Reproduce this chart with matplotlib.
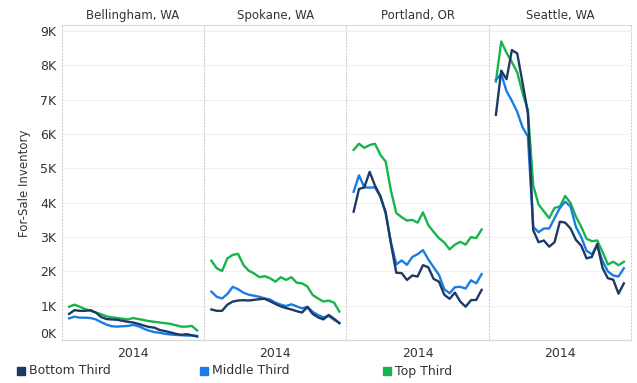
import matplotlib.pyplot as plt
from matplotlib.patches import Rectangle
from matplotlib.transforms import ScaledTranslation

# DATA (inventory in thousands, weekly points across 2014)
cities = ["Bellingham, WA", "Spokane, WA", "Portland, OR", "Seattle, WA"]
series_names = ["Bottom Third", "Middle Third", "Top Third"]
year_label = "2014"
ytick_values = [0, 1, 2, 3, 4, 5, 6, 7, 8, 9]
ytick_labels = ["0K", "1K", "2K", "3K", "4K", "5K", "6K", "7K", "8K", "9K"]
weeks = list(range(25))

bellingham_bottom = [0.76, 0.87, 0.85, 0.85, 0.87, 0.80, 0.67, 0.61, 0.60, 0.59, 0.56, 0.53, 0.51,
                     0.47, 0.42, 0.38, 0.36, 0.29, 0.26, 0.22, 0.18, 0.15, 0.17, 0.14, 0.10]
bellingham_middle = [0.63, 0.68, 0.65, 0.65, 0.64, 0.60, 0.52, 0.45, 0.40, 0.39, 0.40, 0.41, 0.44,
                     0.40, 0.33, 0.27, 0.23, 0.21, 0.18, 0.16, 0.15, 0.14, 0.13, 0.13, 0.12]
bellingham_top = [0.97, 1.03, 0.97, 0.90, 0.85, 0.80, 0.75, 0.69, 0.66, 0.64, 0.62, 0.60, 0.64,
                  0.61, 0.58, 0.55, 0.53, 0.51, 0.49, 0.47, 0.43, 0.39, 0.39, 0.41, 0.28]

spokane_bottom = [0.89, 0.85, 0.85, 1.03, 1.12, 1.15, 1.16, 1.15, 1.17, 1.19, 1.20, 1.13, 1.05,
                  0.98, 0.93, 0.89, 0.84, 0.80, 0.96, 0.76, 0.66, 0.60, 0.73, 0.62, 0.49]
spokane_middle = [1.41, 1.26, 1.21, 1.34, 1.55, 1.48, 1.38, 1.32, 1.29, 1.26, 1.21, 1.18, 1.09,
                  1.03, 0.99, 1.04, 0.98, 0.92, 0.97, 0.82, 0.73, 0.66, 0.70, 0.59, 0.50]
spokane_top = [2.31, 2.09, 2.01, 2.38, 2.48, 2.51, 2.19, 2.02, 1.94, 1.83, 1.86, 1.80, 1.70,
               1.83, 1.75, 1.83, 1.67, 1.65, 1.56, 1.31, 1.21, 1.12, 1.15, 1.09, 0.83]

portland_bottom = [3.74, 4.40, 4.45, 4.90, 4.50, 4.20, 3.72, 2.80, 1.96, 1.95, 1.75, 1.88, 1.85,
                   2.18, 2.12, 1.78, 1.70, 1.32, 1.20, 1.38, 1.12, 0.97, 1.16, 1.17, 1.46]
portland_middle = [4.32, 4.80, 4.45, 4.44, 4.45, 4.18, 3.70, 2.85, 2.20, 2.32, 2.19, 2.42, 2.50,
                   2.62, 2.35, 2.12, 1.90, 1.48, 1.36, 1.54, 1.55, 1.50, 1.74, 1.65, 1.92]
portland_top = [5.54, 5.72, 5.60, 5.68, 5.72, 5.40, 5.20, 4.35, 3.70, 3.58, 3.48, 3.50, 3.42,
                3.72, 3.35, 3.15, 2.97, 2.84, 2.64, 2.78, 2.86, 2.78, 3.00, 2.97, 3.22]

seattle_bottom = [6.56, 7.85, 7.60, 8.45, 8.35, 7.50, 6.61, 3.20, 2.85, 2.90, 2.72, 2.85, 3.45,
                  3.42, 3.25, 2.92, 2.75, 2.38, 2.42, 2.80, 2.10, 1.80, 1.76, 1.35, 1.65]
seattle_middle = [7.58, 7.75, 7.25, 6.97, 6.65, 6.20, 5.93, 3.30, 3.14, 3.25, 3.25, 3.55, 3.85,
                  4.03, 3.89, 3.30, 3.00, 2.60, 2.50, 2.75, 2.30, 2.00, 1.88, 1.85, 2.09]
seattle_top = [7.53, 8.70, 8.37, 8.10, 7.80, 7.20, 6.70, 4.50, 3.95, 3.75, 3.55, 3.85, 3.89,
               4.20, 3.99, 3.60, 3.30, 2.95, 2.88, 2.90, 2.57, 2.20, 2.28, 2.18, 2.28]

city_data = [
    (bellingham_bottom, bellingham_middle, bellingham_top),
    (spokane_bottom, spokane_middle, spokane_top),
    (portland_bottom, portland_middle, portland_top),
    (seattle_bottom, seattle_middle, seattle_top),
]

colors = ["#1d3a64", "#1a7ce6", "#16b44c"]

W, H = 637, 383
fig = plt.figure(figsize=(W / 100, H / 100), dpi=100)

left_px, right_px = 62, 631
top_px, bottom_px = 25, 340
panel_w = (right_px - left_px) / len(cities)

for i, (city, data) in enumerate(zip(cities, city_data)):
    ax = fig.add_axes([
        (left_px + i * panel_w) / W,
        (H - bottom_px) / H,
        panel_w / W,
        (bottom_px - top_px) / H,
    ])
    # draw top third first so the darker lines sit on top
    for values, color in reversed(list(zip(data, colors))):
        ax.plot(weeks, values, color=color, lw=1.7, solid_joinstyle="round")

    ax.set_xlim(-1.34, 25.34)
    ax.set_ylim(0, 9.18)
    ax.set_yticks(ytick_values)
    ax.grid(axis="y", color="#efefef", lw=0.8)
    ax.set_axisbelow(True)

    ax.set_xticks([12])
    ax.set_xticklabels([year_label], fontsize=9, color="#333333")
    ax.tick_params(axis="x", length=0, pad=5)

    if i == 0:
        ax.set_yticklabels(ytick_labels, fontsize=9, color="#333333")
        ax.tick_params(axis="y", length=0, pad=4)
        # the 0K label sits a bit above the baseline
        lab0 = ax.get_yticklabels()[0]
        lab0.set_transform(lab0.get_transform() + ScaledTranslation(0, 5 / 72, fig.dpi_scale_trans))
    else:
        ax.tick_params(axis="y", length=0, labelleft=False)

    ax.set_title(city, fontsize=8.5, color="#333333", pad=4)

    ax.spines["top"].set_color("#dddddd")
    ax.spines["bottom"].set_color("#d5d5d5")
    ax.spines["left"].set_color("#cfcfcf")
    ax.spines["left"].set_linestyle((0, (1, 2)))
    ax.spines["left"].set_linewidth(0.8)
    if i == len(cities) - 1:
        ax.spines["right"].set_color("#cfcfcf")
        ax.spines["right"].set_linestyle((0, (1, 2)))
        ax.spines["right"].set_linewidth(0.8)
    else:
        ax.spines["right"].set_visible(False)

fig.text(25 / W, 1 - 183 / H, "For-Sale Inventory", rotation=90,
         ha="center", va="center", fontsize=8.5, color="#333333")

# legend
legend_x = [17, 200, 383]
for name, color, lx in zip(series_names, colors, legend_x):
    fig.patches.append(Rectangle((lx / W, 1 - 375 / H), 8 / W, 8 / H,
                                 transform=fig.transFigure, color=color))
    fig.text((lx + 12) / W, 1 - 371 / H, name, ha="left", va="center",
             fontsize=9, color="#333333")

fig.savefig("out.png", dpi=100)
